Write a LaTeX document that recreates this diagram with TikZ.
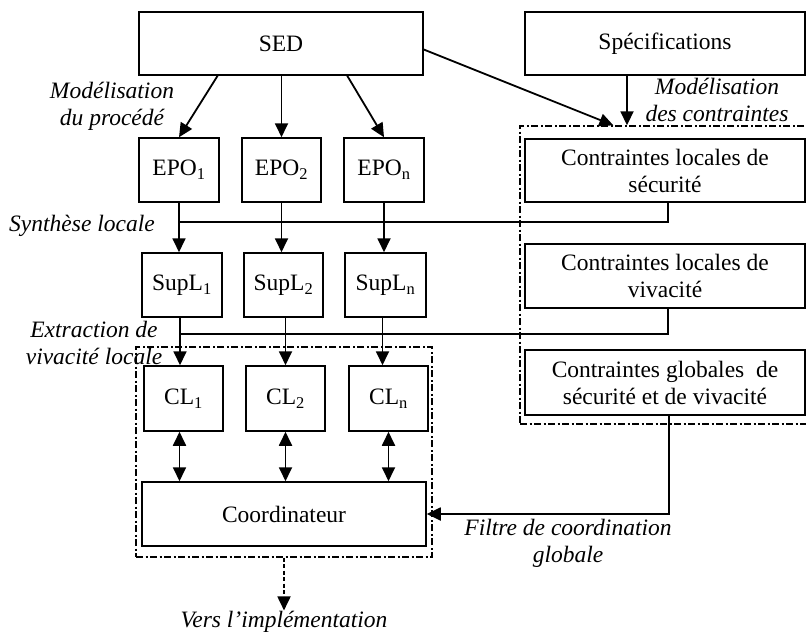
\documentclass[tikz,border=0pt]{standalone}
\usepackage{fontspec}
\setmainfont{Liberation Serif}
\usetikzlibrary{arrows.meta,calc}

\begin{document}
\begin{tikzpicture}[x=1pt,y=-1pt,>={Triangle[length=14pt,width=13pt]},
                    line width=1.8pt,
                    box/.style={draw,line width=1.5pt,font=\fontsize{23.5}{27}\selectfont,
                                align=center,inner sep=0pt},
                    small box/.style={box,minimum width=80pt,minimum height=64pt},
                    wide box/.style={box,minimum width=280pt,minimum height=64pt},
                    step text/.style={font=\fontsize{23.5}{27}\selectfont\itshape,
                                      align=center,inner sep=0pt},
                    group box/.style={draw,line width=1.4pt,inner sep=0pt,
                                      dash pattern=on 7pt off 2.5pt on 2pt off 2.5pt}]
  \useasboundingbox (0,0) rectangle (806,634);
  % top row
  \node[box,minimum width=284pt,minimum height=63pt] (sed) at (281,43.5) {SED};
  \node[box,minimum width=280pt,minimum height=63pt] (spec) at (665,43.5) {Spécifications};
  % groups
  \node[group box,minimum width=296pt,minimum height=210pt] (dleft) at (284,452) {};
  \node[group box,minimum width=287pt,minimum height=298pt] (dright) at (663.5,275) {};
  % columns
  \node[small box] (epo1) at (179,170) {EPO\textsubscript{1}};
  \node[small box,minimum width=79pt] (epo2) at (281.5,170) {EPO\textsubscript{2}};
  \node[small box] (epon) at (384,170) {EPO\textsubscript{n}};
  \node[small box] (supl1) at (182,285) {SupL\textsubscript{1}};
  \node[small box,minimum width=79pt] (supl2) at (283.5,285) {SupL\textsubscript{2}};
  \node[small box,minimum width=81pt] (supln) at (385.5,285) {SupL\textsubscript{n}};
  \node[small box,minimum width=79pt,minimum height=65pt] (cl1) at (183.5,398.5) {CL\textsubscript{1}};
  \node[small box,minimum width=79pt,minimum height=65pt] (cl2) at (285.5,398.5) {CL\textsubscript{2}};
  \node[small box,minimum width=79pt,minimum height=65pt] (cln) at (388.5,398.5) {CL\textsubscript{n}};
  \node[box,minimum width=284pt,minimum height=64pt] (coord) at (284,514) {Coordinateur};
  % constraints
  \node[wide box,minimum height=63pt] (secu) at (665,170.5) {Contraintes locales de\\sécurité};
  \node[wide box] (vivac) at (665,276) {Contraintes locales de\\vivacité};
  \node[wide box,minimum height=65pt] (glob) at (665,382.5) {Contraintes globales~ de\\sécurité et de vivacité};
  % step labels
  \node[step text] (mproc) at (112,106) {Modélisation\\du procédé};
  \node[step text] (mcont) at (717,100) {Modélisation\\des contraintes};
  \node[step text] (synth) at (82,226) {Synthèse locale};
  \node[step text] (extr) at (94,343) {Extraction de\\vivacité locale};
  \node[step text] (filt) at (568,543) {Filtre de coordination\\globale};
  \node[step text] (vers) at (284,622) {Vers l’implémentation};
  \coordinate (synthline) at (180,222);
  \coordinate (extrline) at (180,334);

  \draw[->] ($(sed.south west)!0.278!(sed.south east)$) -- (epo1.north);
  \draw[->] (sed.south -| epo2.north) -- (epo2.north);
  \draw[->] ($(sed.south west)!0.732!(sed.south east)$) -- (epon.north);
  \draw[->] ([yshift=-6pt]sed.east) -- ($(dright.north west)!0.326!(dright.north east)$);
  \draw[->] ([xshift=-38pt]spec.south) -- ([xshift=-38pt]spec.south |- dright.north);

  \draw ([xshift=3pt]secu.south) |- (synthline);
  \draw ([xshift=3pt]vivac.south) |- (extrline);
  \draw[->] (epo1.south) -- (epo1.south |- supl1.north);
  \draw[->] (epo2.south) -- (epo2.south |- supl2.north);
  \draw[->] (epon.south) -- (epon.south |- supln.north);
  \draw[->] ([xshift=-2pt]supl1.south) -- ([xshift=-2pt]supl1.south |- cl1.north);
  \draw[->] ([xshift=2pt]supl2.south) -- ([xshift=2pt]supl2.south |- cl2.north);
  \draw[->] ([xshift=-3pt]supln.south) -- ([xshift=-3pt]supln.south |- cln.north);
  \draw[<->] ([xshift=-4pt]cl1.south) -- ([xshift=-4pt]cl1.south |- coord.north);
  \draw[<->] (cl2.south) -- (cl2.south |- coord.north);
  \draw[<->] (cln.south) -- (cln.south |- coord.north);
  \draw[->] ([xshift=4pt]glob.south) |- (coord.east);
  \draw[->,dash pattern=on 4pt off 2.5pt] (dleft.south) -- (vers.north);
\end{tikzpicture}
\end{document}
